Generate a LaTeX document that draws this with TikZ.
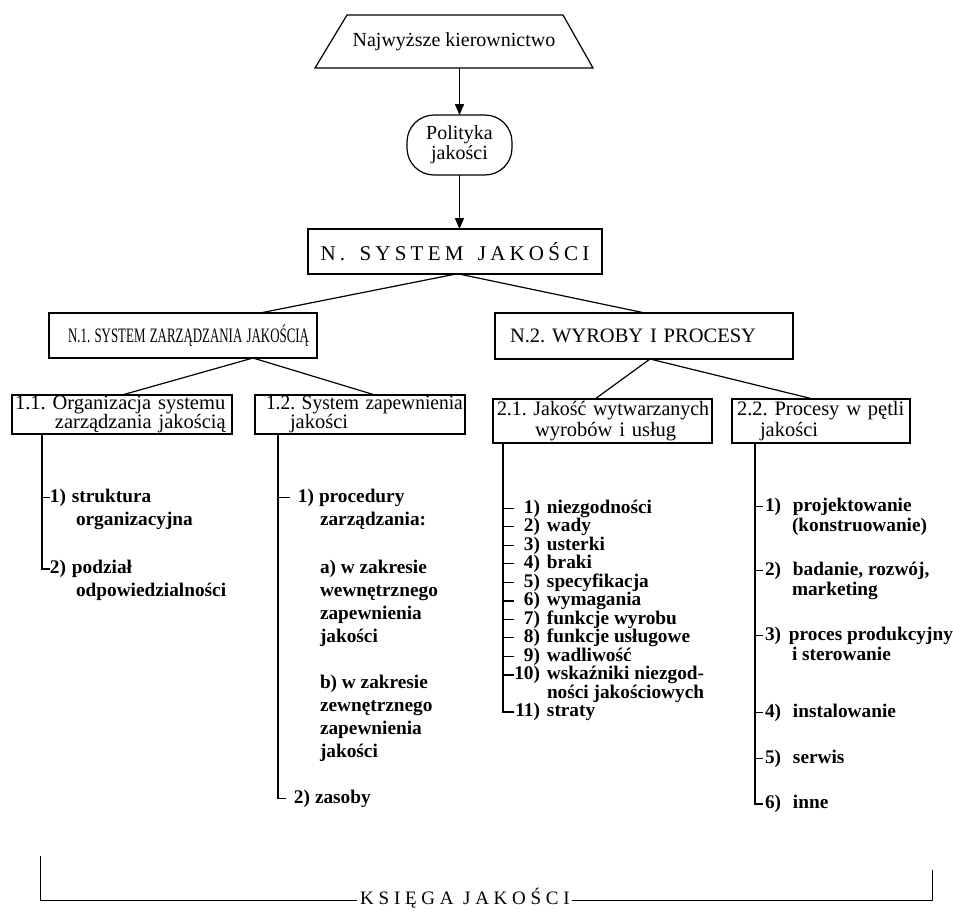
\documentclass[tikz,border=0pt]{standalone}
\usepackage{fontspec}
\usepackage{graphicx}
\setmainfont{Liberation Serif}
\newfontfamily\spacedfont[LetterSpace=20]{Liberation Serif}
\newfontfamily\ksfont[LetterSpace=25]{Liberation Serif}
\usetikzlibrary{shapes.geometric,arrows.meta,calc}
\setlength\parindent{0pt}
\frenchspacing
\newcommand\numbox[2]{\makebox[#1][r]{#2}}
\newcommand\boxline[2]{\mbox{\hspace*{#1}#2}}
\begin{document}
\begin{tikzpicture}[x=1pt,y=-1pt,
  every node/.style={inner sep=0pt,outer sep=0pt},
  hbox/.style={draw,line width=1.2pt,align=left,font=\frenchspacing\fontsize{20.5}{19.5}\selectfont},
  itm/.style={anchor=base west,font=\frenchspacing\bfseries\fontsize{19.3}{23}\selectfont},
  conn/.style={line width=1.2pt},
  trunk/.style={line width=1.7pt},
  tick/.style={line width=1.2pt},
  arr/.style={line width=1.4pt,-{Triangle[length=11pt,width=9pt]}},
  brk/.style={line width=0.9pt}
]
\useasboundingbox (0,0) rectangle (953,922);

% --- top of the chart
\node[minimum width=278pt,minimum height=53pt,font=\fontsize{20}{20}\selectfont] (top) at (454,41.5) {Najwyższe kierownictwo};
\draw[line width=1.2pt,line join=miter] ([xshift=32pt]top.north west) -- ([xshift=-30pt]top.north east)
   -- (top.south east) -- (top.south west) -- cycle;
\node[draw,line width=1.2pt,rounded corners=27pt,minimum width=105pt,minimum height=60pt,
      align=center,font=\fontsize{20}{20}\selectfont] (pol) at (459.5,145) {Polityka\\jakości};
\node[draw,line width=1.2pt,minimum width=294pt,minimum height=45pt,
      font=\spacedfont\fontsize{21}{21}\selectfont] (nsys) at (455,251.5) {N.\hspace{5pt} SYSTEM\hspace{5pt} JAKOŚCI};

\draw[arr] (top.south -| pol.north) -- (pol.north);
\draw[arr] (pol.south) -- (pol.south |- nsys.north);

% --- level 2
\node[hbox,text width=268pt,minimum height=45pt] (n1) at (183,335.5)
  {\boxline{19pt}{\scalebox{0.63}[1]{N.1. SYSTEM ZARZĄDZANIA JAKOŚCIĄ}}};
\node[hbox,text width=298pt,minimum height=46pt] (n2) at (644,336)
  {\boxline{15pt}{N.2. WYROBY I PROCESY}};

\draw[conn] ([xshift=1pt]nsys.south) -- ([xshift=77pt]n1.north);
\draw[conn] ([xshift=4pt]nsys.south) -- ([xshift=1pt]n2.north);

% --- level 3
\node[hbox,text width=220pt,minimum height=39pt] (b11) at (122,414.5)
  {\boxline{3pt}{1.1. Organizacja systemu}\\\boxline{43pt}{zarządzania jakością}};
\node[hbox,text width=210pt,minimum height=39pt] (b12) at (360,414.5)
  {\boxline{11pt}{\scalebox{0.95}[1]{1.2. System zapewnienia}}\\\boxline{35pt}{jakości}};
\node[hbox,text width=219pt,minimum height=44pt,font=\frenchspacing\fontsize{20.5}{21}\selectfont] (b21) at (602.5,421)
  {\boxline{4pt}{\scalebox{0.97}[1]{2.1. Jakość wytwarzanych}}\\\boxline{42pt}{wyrobów i usług}};
\node[hbox,text width=178pt,minimum height=44pt,font=\frenchspacing\fontsize{20.5}{21}\selectfont] (b22) at (821,421)
  {\boxline{5pt}{2.2. Procesy w pętli}\\\boxline{28pt}{jakości}};

\draw[conn] ([xshift=70pt]n1.south) -- (b11.north);
\draw[conn] ([xshift=70pt]n1.south) -- ([xshift=15pt]b12.north);
\draw[conn] ([xshift=6pt]n2.south) -- ([xshift=-7.5pt]b21.north);
\draw[conn] ([xshift=6pt]n2.south) -- ([xshift=-8pt]b22.north);

\coordinate (t11) at ([xshift=30pt]b11.south west);
\coordinate (t12) at ([xshift=23pt]b12.south west);
\coordinate (t21) at ([xshift=10pt]b21.south west);
\coordinate (t22) at ([xshift=23pt]b22.south west);

% --- list 1.1
\node[itm] (i11a)  at (50,502.5) {\numbox{16pt}{1)}\hspace{6pt}struktura};
\node[itm] (i11a2) at (76,525.5) {organizacyjna};
\node[itm] (i11b)  at (50,573.5) {\numbox{16pt}{2)}\hspace{6pt}podział};
\node[itm] (i11b2) at (76,596.5) {odpowiedzialności};
\draw[tick] (t11 |- i11a.west) -- (i11a.west);
\draw[trunk] (t11) |- (i11b.west);

% --- list 1.2
\node[itm] (i12a)  at (298,502.5) {\numbox{16pt}{1)}\hspace{5pt}procedury};
\node[itm] (i12a2) at (320,525.5) {zarządzania:};
\node[itm] (i12s1) at (320,573) {a) w zakresie};
\node[itm] (i12s2) at (320,596) {wewnętrznego};
\node[itm] (i12s3) at (320,619) {zapewnienia};
\node[itm] (i12s4) at (320,642) {jakości};
\node[itm] (i12s5) at (320,688) {b) w zakresie};
\node[itm] (i12s6) at (320,711) {zewnętrznego};
\node[itm] (i12s7) at (320,734) {zapewnienia};
\node[itm] (i12s8) at (320,757) {jakości};
\node[itm] (i12b)  at (294,803) {\numbox{16pt}{2)}\hspace{5pt}zasoby};
\draw[tick] (t12 |- i12a.west) -- ([xshift=-8pt]i12a.west);
\draw[trunk] (t12) |- ([xshift=-8pt]i12b.west);

% --- list 2.1
\node[itm] (i21a) at (514,513)   {\numbox{26pt}{1)}\hspace{7pt}niezgodności};
\node[itm] (i21b) at (514,531.5) {\numbox{26pt}{2)}\hspace{7pt}wady};
\node[itm] (i21c) at (514,550)   {\numbox{26pt}{3)}\hspace{7pt}usterki};
\node[itm] (i21d) at (514,568.5) {\numbox{26pt}{4)}\hspace{7pt}braki};
\node[itm] (i21e) at (514,587)   {\numbox{26pt}{5)}\hspace{7pt}specyfikacja};
\node[itm] (i21f) at (514,605.5) {\numbox{26pt}{6)}\hspace{7pt}wymagania};
\node[itm] (i21g) at (514,624)   {\numbox{26pt}{7)}\hspace{7pt}funkcje wyrobu};
\node[itm] (i21h) at (514,642.5) {\numbox{26pt}{8)}\hspace{7pt}funkcje usługowe};
\node[itm] (i21i) at (514,661)   {\numbox{26pt}{9)}\hspace{7pt}wadliwość};
\node[itm] (i21j) at (514,679.5) {\numbox{26pt}{10)}\hspace{7pt}wskaźniki niezgod-};
\node[itm] (i21j2) at (547,698)  {ności jakościowych};
\node[itm] (i21k) at (514,716.5) {\numbox{26pt}{11)}\hspace{7pt}straty};
\foreach \n in {a,b,c,d,e,f,g,h,i,j}
  \draw[tick] (t21 |- i21\n.west) -- (i21\n.west);
\draw[trunk] (t21) |- (i21k.west);

% --- list 2.2
\node[itm] (i22a)  at (765,511.5) {\makebox[28pt][l]{1)}projektowanie};
\node[itm] (i22a2) at (792,531)   {(konstruowanie)};
\node[itm] (i22b)  at (765,575.5) {\makebox[28pt][l]{2)}badanie, rozwój,};
\node[itm] (i22b2) at (792,595)   {marketing};
\node[itm] (i22c)  at (765,640.5) {\makebox[24pt][l]{3)}proces produkcyjny};
\node[itm] (i22c2) at (792,660)   {i sterowanie};
\node[itm] (i22d)  at (765,717.5) {\makebox[28pt][l]{4)}instalowanie};
\node[itm] (i22e)  at (765,763.5) {\makebox[28pt][l]{5)}serwis};
\node[itm] (i22f)  at (765,808.5) {\makebox[28pt][l]{6)}inne};
\foreach \n in {a,b,c,d,e}
  \draw[tick] (t22 |- i22\n.west) -- ([xshift=-2pt]i22\n.west);
\draw[trunk] (t22) |- ([xshift=-2pt]i22f.west);

% --- bracket "Księga jakości"
\node[anchor=base,font=\ksfont\fontsize{19}{19}\selectfont] (ks) at (465,904) {KSIĘGA JAKOŚCI};
\coordinate (kl) at (40,856);
\coordinate (kr) at (932,870);
\draw[brk] (kl) |- ([xshift=-3pt,yshift=4pt]ks.base west);
\draw[brk] (kr) |- ([xshift=2pt,yshift=4pt]ks.base east);
\end{tikzpicture}
\end{document}
